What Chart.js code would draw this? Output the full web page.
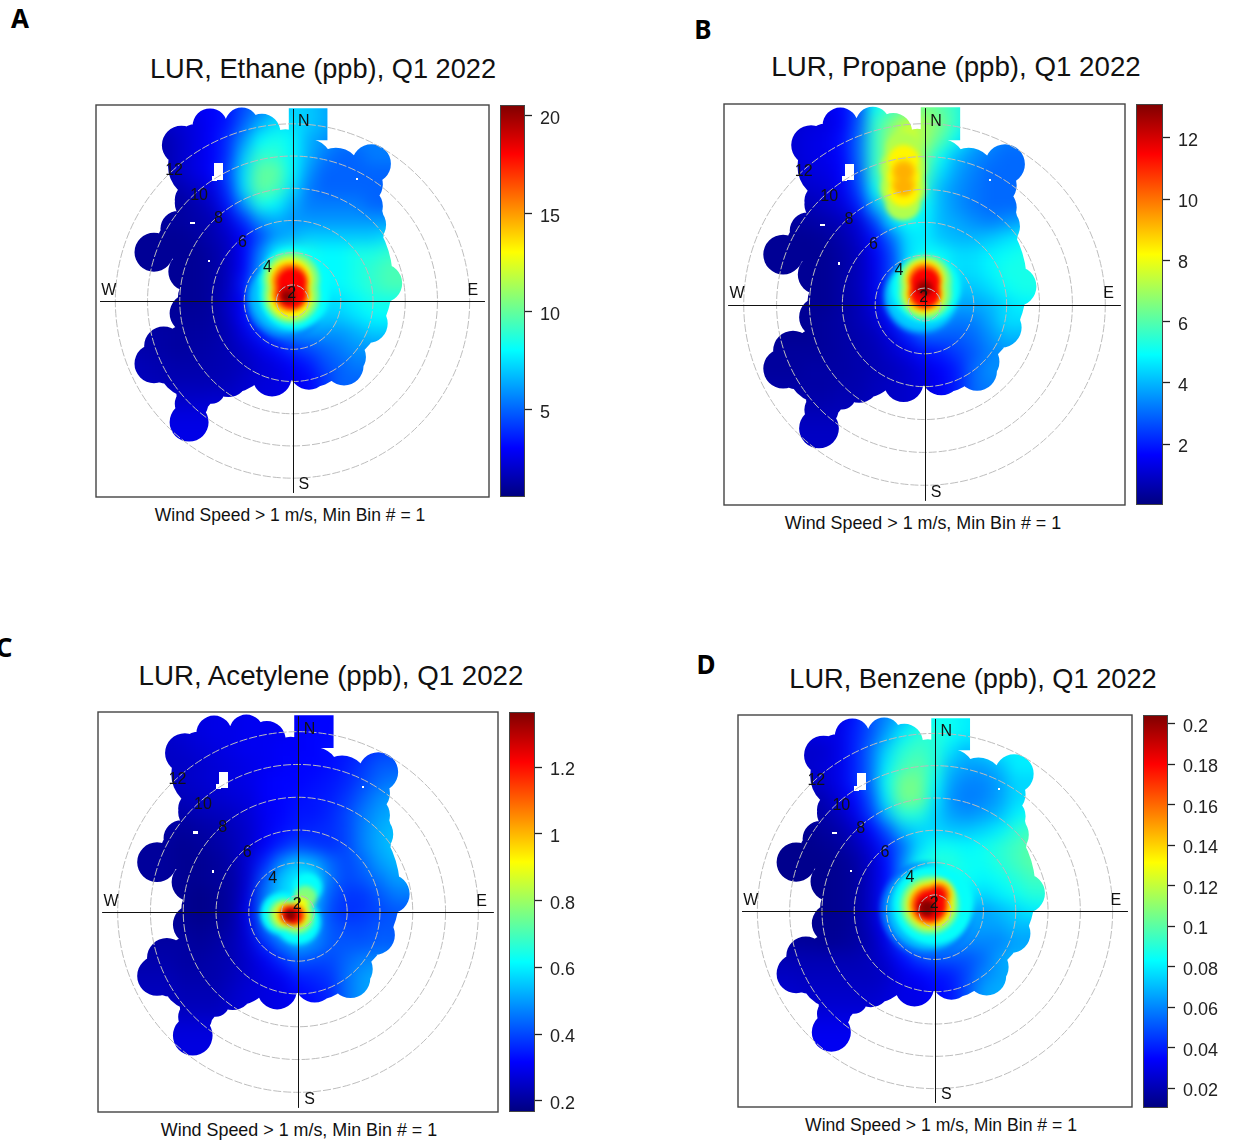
<!DOCTYPE html>
<html>
<head>
<meta charset="utf-8">
<title>LUR polar plots, Q1 2022</title>
<script src="https://cdn.jsdelivr.net/npm/chart.js@4"></script>
<style>
  body { margin: 0; background: #fff; width: 1233px; height: 1142px; position: relative; overflow: hidden; font-family: "Liberation Sans", Arial, sans-serif; }
  canvas { position: absolute; }
  .txt { position: absolute; white-space: nowrap; transform: translate(-50%, -50%); color: #111; }
  .letter { font: bold 26px "Noto Sans", sans-serif; color: #000; }
</style>
</head>
<body>
<script>
// x columns and y rows of the coarse grid, in (wind speed - 1) m/s from the centre
const gridX = [-10, -9, -8, -7, -6, -5, -4, -3, -2, -1, 0, 1, 2, 3, 4, 5, 6, 7];
const gridY = [12, 11, 10, 9, 8, 7, 6, 5, 4, 3, 2, 1, 0, -1, -2, -3, -4, -5, -6, -7, -8, -9];

const ethaneGrid = [
  [2.5,2.5,2.5,2.5,2.8,3,3.5,4.5,5.5,6.5,7.2,7,6.5,6,5.5,5.5,5.5,5.5],
  [2,2,2,2.2,2.5,3,3.5,5,6.5,7.5,7.5,7,6.5,6,5.5,5.5,5.5,5.5],
  [1.5,1.5,1.5,2,2.5,3,4,6,8,8.5,8,6.5,6,5.5,5.5,5.5,5.5,5.5],
  [1.5,1.5,1.5,2,2.5,3,4,7,9,9,8,6.5,5.5,5,5,5.5,5.5,5.5],
  [1.5,1.5,1.5,2,2.5,3,4.5,7.5,10,10,8,6,5,5,5,5,5,5],
  [1.5,1.5,1.5,1.5,2,2.5,4,7.5,10,9.5,7.5,5.5,5,5,5,5,5,5],
  [1.2,1.2,1.2,1.2,1.5,2,3.5,6,8.5,8,6.5,5.5,5.5,5.5,5.5,5,5,5],
  [1.1,1.1,1.2,1.2,1.4,1.6,2.5,4,6,6.5,6,6,6,6,6,6,6,6],
  [1,1,1,1,1.2,1.5,2,3,4.5,6,6.5,7,7,7,7,7,7.5,7.5],
  [1,1,1,1,1,1.3,1.8,3,5.5,8,8.5,8.5,8,8,8.5,8.5,9,9],
  [1,1,1,1,1,1.2,1.8,3,6,8,8.5,8.5,8,8,8.5,9,9.5,9.5],
  [1,1,1,1,1,1.2,1.8,3.5,6.5,8,8.5,8.5,8,8,8.5,9,9.5,9.5],
  [1,1,1,1,1,1.2,2,3,5.5,8,8.5,8.5,7.5,7.5,8,8.5,8.5,8.5],
  [1.1,1.1,1.1,1.1,1.1,1.2,1.8,3,5,7,8,7.5,7,7,7.5,8,8,8],
  [1.3,1.3,1.3,1.2,1.2,1.3,1.6,2.5,3.5,5,6,6,6,6,6.5,7,7,7],
  [1.5,1.4,1.3,1.2,1.3,1.4,1.6,2,2.6,3.2,4,4.5,5,5.5,6,6,6,6],
  [1.7,1.6,1.5,1.4,1.4,1.5,1.6,1.8,2.2,2.5,3,3.5,4.5,5,5.5,5.5,5.5,5.5],
  [1.8,1.7,1.6,1.6,1.6,1.6,1.7,2,2.3,2.4,2.7,3,4,5,5,5,5,5],
  [2,2,2,1.9,1.9,2,2,2.2,2.4,2.5,2.7,3,4,5,5,5,5,5],
  [2.4,2.4,2.4,2.4,2.4,2.4,2.4,2.5,2.6,2.6,2.7,3,4,5,5,5,5,5],
  [2.6,2.6,2.6,2.6,2.6,2.6,2.6,2.6,2.6,2.6,3,3,4,5,5,5,5,5],
  [2.6,2.6,2.6,2.6,2.6,2.6,2.6,2.6,2.6,2.6,3,3,4,5,5,5,5,5]
];
const propaneGrid = [
  [1.2,1.2,1.2,1.2,1.4,1.7,2.6,5,5.5,6,6.5,6,5.5,4.5,4,4,4,4],
  [1.1,1.1,1.1,1.2,1.3,1.6,2.8,5.5,6.5,7.5,7,6.5,5.5,4.5,4,3.5,3.5,3.5],
  [1.1,1.1,1.1,1.3,1.4,1.8,3,5.5,7,8,7,6,5,4,3.5,3.2,3.2,3.2],
  [1.1,1.1,1.1,1.3,1.4,1.7,3,5.5,7,7.5,6.5,5,4,3.5,3.2,3,3,3],
  [1,1,1,1.2,1.3,1.6,2.8,5.5,7,7.5,6,4.5,3.7,3.3,3,3,3,3],
  [0.8,0.8,0.8,1,1.1,1.5,2.5,5,6.5,7,5.5,4,3.5,3.2,3,3,3,3],
  [0.6,0.6,0.6,0.7,0.9,1.2,2,4,5.5,5.5,5,4,3.5,3.2,3,3,3,3],
  [0.4,0.4,0.4,0.5,0.6,0.8,1.2,2.5,4.5,5,4.8,4,3.8,3.5,3.3,3.5,3.8,3.8],
  [0.3,0.3,0.3,0.3,0.4,0.6,1,1.8,3,4.5,4.7,4.2,4,4,4.2,4.5,4.8,4.8],
  [0.3,0.3,0.3,0.3,0.3,0.5,0.8,1.5,2.5,4.5,5,5,4.5,4.5,4.8,5,5.2,5.2],
  [0.3,0.3,0.3,0.3,0.3,0.5,0.8,1.4,2.5,4.5,5,5,4.5,4.5,4.8,5.2,5.2,5.2],
  [0.3,0.3,0.3,0.3,0.3,0.5,0.8,1.4,2.5,4.5,5,5,4.2,4.2,4.5,5,5.2,5.2],
  [0.3,0.3,0.3,0.3,0.3,0.5,0.7,1.3,2.3,4.2,5,4.5,3.8,3.8,4,4.5,4.8,4.8],
  [0.3,0.3,0.3,0.3,0.4,0.5,0.7,1,1.8,3,4,3.5,3.2,3.3,3.8,4.5,4.5,4.5],
  [0.3,0.3,0.3,0.3,0.4,0.5,0.6,0.8,1.2,2,2.8,2.8,2.8,3,3.5,4,4,4],
  [0.4,0.4,0.4,0.4,0.4,0.5,0.6,0.7,1,1.3,1.8,2,2.4,2.8,3.3,3.5,3.5,3.5],
  [0.4,0.4,0.4,0.5,0.5,0.5,0.6,0.7,0.8,1,1.3,1.6,2,3,3.5,3.5,3.5,3.5],
  [0.5,0.5,0.5,0.5,0.5,0.6,0.6,0.8,0.9,1,1.2,1.5,2,3,3.3,3.3,3.3,3.3],
  [0.6,0.6,0.6,0.6,0.6,0.7,0.7,0.8,0.9,1,1.2,1.5,2,3,3,3,3,3],
  [0.8,0.8,0.8,0.8,0.8,0.8,0.8,0.8,0.9,1,1.2,1.5,2,3,3,3,3,3],
  [0.9,0.9,0.9,0.9,0.9,0.9,0.9,0.9,0.9,1,1.2,1.5,2,3,3,3,3,3],
  [0.9,0.9,0.9,0.9,0.9,0.9,0.9,0.9,0.9,1,1.2,1.5,2,3,3,3,3,3]
];
const acetyleneGrid = [
  [.27,.27,.27,.27,.28,.29,.29,.3,.3,.3,.31,.32,.32,.32,.33,.33,.33,.33],
  [.26,.26,.26,.27,.28,.29,.29,.3,.3,.3,.31,.32,.32,.33,.34,.35,.35,.35],
  [.25,.25,.25,.26,.27,.28,.29,.3,.3,.31,.31,.32,.33,.34,.36,.38,.4,.4],
  [.25,.25,.25,.25,.26,.27,.28,.29,.3,.31,.32,.32,.33,.35,.38,.42,.42,.42],
  [.24,.24,.24,.25,.26,.27,.28,.29,.31,.32,.32,.33,.34,.36,.4,.44,.46,.46],
  [.23,.23,.23,.24,.25,.26,.27,.28,.31,.32,.33,.34,.35,.38,.43,.48,.5,.5],
  [.22,.22,.22,.22,.23,.24,.25,.27,.3,.32,.34,.34,.36,.4,.46,.5,.52,.52],
  [.21,.21,.21,.2,.21,.22,.24,.26,.3,.33,.35,.36,.37,.4,.47,.52,.54,.54],
  [.2,.2,.2,.19,.2,.21,.23,.26,.31,.36,.4,.38,.37,.4,.47,.52,.55,.55],
  [.2,.2,.2,.19,.19,.2,.22,.27,.36,.48,.55,.52,.44,.4,.44,.5,.53,.53],
  [.2,.2,.2,.19,.19,.2,.21,.27,.42,.55,.6,.58,.45,.4,.42,.46,.5,.5],
  [.19,.19,.19,.19,.18,.19,.21,.28,.46,.56,.6,.55,.42,.38,.38,.42,.46,.46],
  [.19,.19,.19,.19,.18,.19,.21,.3,.48,.58,.6,.52,.4,.37,.38,.4,.42,.42],
  [.2,.2,.2,.2,.19,.2,.22,.28,.44,.56,.58,.5,.42,.4,.4,.42,.42,.42],
  [.21,.21,.21,.21,.2,.21,.23,.27,.36,.45,.52,.48,.42,.42,.42,.43,.43,.43],
  [.22,.22,.22,.21,.21,.22,.23,.26,.3,.36,.42,.4,.4,.44,.47,.48,.48,.48],
  [.23,.23,.23,.22,.22,.22,.24,.26,.28,.3,.35,.36,.38,.45,.5,.52,.52,.52],
  [.24,.24,.24,.23,.23,.23,.25,.27,.28,.29,.32,.34,.36,.45,.5,.52,.52,.52],
  [.25,.25,.25,.24,.24,.24,.26,.27,.28,.29,.3,.32,.36,.45,.5,.5,.5,.5],
  [.27,.27,.27,.27,.27,.27,.27,.27,.28,.29,.3,.32,.36,.45,.5,.5,.5,.5],
  [.28,.28,.28,.28,.28,.28,.28,.28,.28,.29,.3,.32,.36,.45,.5,.5,.5,.5],
  [.28,.28,.28,.28,.28,.28,.28,.28,.28,.29,.3,.32,.36,.45,.5,.5,.5,.5]
];
const benzeneGrid = [
  [.03,.03,.03,.03,.03,.038,.05,.06,.07,.08,.085,.085,.08,.08,.08,.08,.08,.08],
  [.028,.028,.028,.03,.03,.04,.05,.065,.08,.09,.09,.085,.08,.078,.078,.078,.078,.078],
  [.025,.025,.025,.025,.03,.04,.055,.075,.09,.095,.09,.078,.07,.075,.08,.08,.08,.08],
  [.025,.025,.025,.027,.03,.04,.055,.08,.095,.1,.09,.07,.065,.065,.07,.08,.08,.08],
  [.024,.024,.024,.025,.03,.04,.055,.085,.105,.105,.085,.065,.06,.06,.065,.075,.075,.075],
  [.02,.02,.02,.02,.027,.035,.05,.08,.105,.105,.08,.062,.058,.06,.065,.075,.078,.078],
  [.016,.016,.016,.018,.022,.03,.045,.07,.09,.09,.075,.065,.062,.065,.07,.08,.085,.085],
  [.014,.014,.014,.016,.018,.024,.035,.05,.07,.075,.075,.072,.072,.075,.08,.09,.095,.095],
  [.013,.013,.013,.014,.016,.02,.028,.04,.055,.075,.085,.085,.082,.085,.09,.095,.1,.1],
  [.013,.013,.013,.013,.014,.017,.024,.036,.06,.085,.09,.09,.085,.085,.09,.095,.1,.1],
  [.013,.013,.013,.013,.014,.016,.024,.036,.06,.08,.085,.085,.085,.082,.085,.09,.095,.095],
  [.013,.013,.013,.013,.014,.016,.024,.038,.06,.08,.085,.085,.08,.075,.08,.085,.09,.09],
  [.013,.013,.013,.013,.014,.016,.024,.038,.06,.08,.085,.08,.07,.065,.07,.075,.08,.08],
  [.014,.014,.014,.014,.014,.016,.022,.034,.055,.08,.085,.072,.065,.065,.065,.07,.07,.07],
  [.016,.016,.016,.015,.015,.017,.02,.03,.048,.065,.07,.065,.06,.06,.06,.065,.065,.065],
  [.02,.02,.02,.02,.02,.02,.022,.026,.036,.046,.05,.05,.05,.055,.065,.07,.07,.07],
  [.023,.023,.022,.022,.022,.022,.022,.024,.03,.034,.038,.04,.048,.06,.065,.068,.068,.068],
  [.025,.025,.024,.024,.024,.024,.024,.026,.03,.03,.035,.038,.05,.065,.068,.068,.068,.068],
  [.027,.027,.026,.026,.026,.026,.026,.028,.03,.03,.034,.038,.05,.065,.065,.065,.065,.065],
  [.03,.03,.03,.03,.03,.03,.03,.03,.03,.03,.034,.038,.05,.065,.065,.065,.065,.065],
  [.032,.032,.032,.032,.032,.032,.032,.032,.032,.032,.034,.038,.05,.065,.065,.065,.065,.065],
  [.032,.032,.032,.032,.032,.032,.032,.032,.032,.032,.034,.038,.05,.065,.065,.065,.065,.065]
];

// hot spots as nested levels, lowest first: [x, y, radius, value]
const ethaneHot = [
  [-.4,.15,2.5,5.6],[-.3,.3,2.3,6.8],[.1,1.2,2.2,8.1],[.1,.4,2.2,8.1],[-.07,1.3,1.75,10.6],[-.07,.35,1.75,10.6],
  [-.12,1.32,1.35,13.1],[-.12,.27,1.35,13.1],[-.13,1.22,1.13,15.6],[-.13,.46,1.13,15.6],[-.05,1.14,.9,18.1],[-.05,.44,.9,18.1],
  [-.3,.35,.5,19.5],[-.33,.25,.25,20.5]
];
const propaneHot = [
  [-.2,.5,2.3,3.6],[-.1,.6,2.2,4.3],[.1,1,2.1,5],[.06,1.4,1.6,6.6],[.06,.7,1.6,6.6],[0,1.53,1.22,8.3],[0,.62,1.22,8.3],
  [0,1.48,1.02,9.9],[0,.67,1.02,9.9],[.05,1.33,.87,11.5],[.05,.72,.87,11.5],[0,1,.5,12.5],[0,.9,.25,13.1],
  [-1.3,9.4,1.1,7.2],[-1.3,8.3,1.4,7.2],[-1.3,7.1,1.4,7.2],[-1.3,6.2,1.1,7.2],
  [-1.27,8.75,.95,8.3],[-1.27,7.8,1,8.3],[-1.27,6.9,.95,8.3],
  [-1.27,8.1,.72,8.9],[-1.27,7.3,.72,8.9],[-1.27,8.05,.5,9.2],[-1.27,7.15,.5,9.2]
];
const acetyleneHot = [
  [-1,-.1,1.3,.62],[.6,1.5,.9,.62],[0,-.6,1.4,.62],[-.85,-.15,.95,.77],[.45,.9,.7,.77],[-.05,-.3,1.05,.77],
  [-.7,-.15,.75,.9],[-.1,-.2,.8,.9],[.2,.5,.4,.9],[-.6,-.15,.6,1.07],[-.2,-.2,.65,1.07],
  [-.5,-.15,.5,1.22],[-.3,-.2,.55,1.22],[-.45,-.18,.35,1.36]
];
const benzeneHot = [
  [-.5,.1,2.9,.055],[-.35,.2,2.65,.07],[-.1,.4,2.5,.084],[-.33,.37,1.8,.108],[-.3,.37,1.45,.133],[.25,1.05,.95,.133],
  [-.35,.37,1.2,.157],[.2,1,.75,.157],[-.3,.33,.95,.181],[.15,.95,.55,.181],[-.5,.2,.55,.2],[-.45,.2,.3,.204]
];

// where there are wind bins at all: [x, y, radius]
const binCircles = [
  [4.9,8.54,1.21],[4.4,7.25,1.21],[4.4,5.9,1.21],[4.6,4.75,1.21],[4.2,3.7,1.21],[4.7,2.77,1.21],[5.6,1.1,1.21],
  [4.7,-.46,1.21],[4.7,-1.4,1.21],[3.56,-2.23,1.21],[3.35,-3.48,1.21],[3.2,-4.04,1.21],[1.02,-4.31,1.21],
  [-1.27,-4.73,1.21],[-3.98,-4.77,1.21],[-5.85,-4.98,1.21],[-6.42,-7.54,1.21],[-7.83,-3.94,1.21],[-8.6,-3.9,1.21],
  [-8,-2.8,1.21],[-6.7,-2.8,1.21],[-6.42,-.77,1.21],[-5.9,.27,1.21],[-5.8,1.2,1.21],[-6.5,1.83,1.21],[-8.6,3.04,1.21],
  [-7.15,3.8,1.21],[-6.1,4.23,1.21],[-6.1,6.1,1.21],[-6.9,9.7,1.21],[-5.12,10.9,1.08],[-3.15,11,1.04],[-1.9,10.5,1.15],
  [-.02,1.31,6.25],[-1.48,7.56,2.92],[-5.65,8.4,2.08],[-6.06,-3.69,2.4],[-3.98,-3.06,2.7],[1.23,-3.27,2.08],
  [2.27,4.65,3.44],[2.27,7.35,2.08],[-3.98,3.19,3.33],[-.44,9.44,1.25],
  [-4.6,5.69,1.98],[-6.27,6.31,1.04],[-3.98,9.23,1.88],[-6.06,9.85,1.15],[-2.31,9.85,1.46],[-1.27,9.65,1.04],
  [2.69,7.98,1.56],[1.02,8.6,1.46],[-7.1,4.5,1.1],[-6.1,4.96,1.21],[-6.06,-5.77,1.15],[-5.02,-5.56,.83],[-6.27,-6.4,1.04]
];
const binBlock = [-.23, 12, 2.17, 10];
// small holes: [x, y, width, height]
const binGaps = [[-4.57,8.06,.55,1],[-4.85,7.65,.3,.3],[-6.23,4.85,.3,.15],[-5.19,2.48,.1,.16],[3.98,7.6,.12,.12]];

const ringSpeeds = [2, 4, 6, 8, 10, 12];
const ringLabels = ['2', '4', '6', '8', '10', '12'];
const ringLabelX = [-.05, -1.55, -3.1, -4.6, -5.8, -7.35];
const ringLabelY = [.45, 2.05, 3.65, 5.15, 6.55, 8.1];
const compassLabels = ['N', 'E', 'S', 'W'];
const compassX = [.7, 11.2, .7, -11.4];
const compassY = [11.15, .65, -11.45, .65];

const ethaneTicks = [5, 10, 15, 20];
const propaneTicks = [2, 4, 6, 8, 10, 12];
const acetyleneTicks = [0.2, 0.4, 0.6, 0.8, 1, 1.2];
const benzeneTicks = [0.02, 0.04, 0.06, 0.08, 0.1, 0.12, 0.14, 0.16, 0.18, 0.2];

const jet = ['#00007F', '#0000FF', '#007FFF', '#00FFFF', '#7FFF7F', '#FFFF00', '#FF7F00', '#FF0000', '#7F0000'];
const halfRange = 12.2;
const margin = 30;

const panels = [
  { letter: 'A', letterAt: [20, 18], title: 'LUR, Ethane (ppb), Q1 2022', titleAt: [323, 69], titleSize: 27.2, capAt: [290, 515], capSize: 17.5, box: [96, 105, 393, 392], bar: [500, 105, 25, 392], min: 0.56, max: 20.56, grid: ethaneGrid, hot: ethaneHot, ticks: ethaneTicks },
  { letter: 'B', letterAt: [703, 29], title: 'LUR, Propane (ppb), Q1 2022', titleAt: [956, 67], titleSize: 27.7, capAt: [923, 523], capSize: 17.9, box: [724, 104, 401, 401], bar: [1136, 104, 27, 401], min: 0.016, max: 13.1, grid: propaneGrid, hot: propaneHot, ticks: propaneTicks },
  { letter: 'C', letterAt: [4, 647], title: 'LUR, Acetylene (ppb), Q1 2022', titleAt: [331, 676], titleSize: 27.7, capAt: [299, 1130], capSize: 17.9, box: [98, 712, 400, 400], bar: [509, 712, 26, 400], min: 0.167, max: 1.3655, grid: acetyleneGrid, hot: acetyleneHot, ticks: acetyleneTicks },
  { letter: 'D', letterAt: [706, 664], title: 'LUR, Benzene (ppb), Q1 2022', titleAt: [973, 679], titleSize: 27.2, capAt: [941, 1125], capSize: 17.6, box: [738, 715, 394, 392], bar: [1143, 715, 25, 393], min: 0.0103, max: 0.2043, grid: benzeneGrid, hot: benzeneHot, ticks: benzeneTicks }
];

const jetColor = (v, min, max) => {
  const t = Math.min(1, Math.max(0, (v - min) / (max - min))) * (jet.length - 1);
  const i = Math.min(jet.length - 2, Math.floor(t));
  const a = jet[i], b = jet[i + 1];
  const ch = (s) => [1, 3, 5].map((p) => parseInt(s.substr(p, 2), 16));
  const ca = ch(a), cb = ch(b);
  const c = ca.map((n, k) => Math.round(n + (cb[k] - n) * (t - i)));
  return `rgb(${c[0]},${c[1]},${c[2]})`;
};

const addText = (cls, text, at, size) => {
  const el = document.createElement('div');
  el.className = cls;
  el.textContent = text;
  el.style.left = at[0] + 'px';
  el.style.top = at[1] + 'px';
  if (size) el.style.fontSize = size + 'px';
  document.body.appendChild(el);
};

const addCanvas = (x, y, w, h) => {
  const c = document.createElement('canvas');
  c.width = w;
  c.height = h;
  c.style.left = x + 'px';
  c.style.top = y + 'px';
  c.style.width = w + 'px';
  c.style.height = h + 'px';
  document.body.appendChild(c);
  return c;
};

// blurs what has been drawn so far, so the cells read as a smooth surface
const blurCanvas = (chart, amount) => {
  const tmp = document.createElement('canvas');
  tmp.width = chart.canvas.width;
  tmp.height = chart.canvas.height;
  tmp.getContext('2d').drawImage(chart.canvas, 0, 0);
  const ctx = chart.ctx;
  ctx.save();
  ctx.setTransform(1, 0, 0, 1, 0, 0);
  ctx.clearRect(0, 0, tmp.width, tmp.height);
  ctx.filter = `blur(${amount}px)`;
  ctx.drawImage(tmp, 0, 0);
  ctx.restore();
};

const polarPlugin = {
  id: 'polarPlugin',
  afterDatasetDraw(chart, args) {
    blurCanvas(chart, chart.data.datasets[args.index].blur);
  },
  afterDatasetsDraw(chart) {
    const ctx = chart.ctx;
    const sx = chart.scales.x, sy = chart.scales.y;
    const unit = sx.getPixelForValue(1) - sx.getPixelForValue(0);
    const px = (v) => sx.getPixelForValue(v);
    const py = (v) => sy.getPixelForValue(v);
    const cx = px(0), cy = py(0);

    // keep the surface only where bins exist
    ctx.save();
    ctx.globalCompositeOperation = 'destination-in';
    ctx.beginPath();
    binCircles.forEach((b) => {
      ctx.moveTo(px(b[0]) + b[2] * unit, py(b[1]));
      ctx.arc(px(b[0]), py(b[1]), b[2] * unit, 0, Math.PI * 2);
    });
    ctx.rect(px(binBlock[0]), py(binBlock[1]), px(binBlock[2]) - px(binBlock[0]), py(binBlock[3]) - py(binBlock[1]));
    ctx.fill();
    ctx.restore();
    binGaps.forEach((g) => {
      ctx.clearRect(px(g[0] - g[2] / 2), py(g[1] + g[3] / 2), g[2] * unit, g[3] * unit);
    });

    // rings
    ctx.save();
    ctx.strokeStyle = '#bdbdbd';
    ctx.lineWidth = 1;
    ctx.setLineDash([8, 2]);
    ringSpeeds.forEach((ws) => {
      ctx.beginPath();
      ctx.arc(cx, cy, (ws - 1) * unit, 0, Math.PI * 2);
      ctx.stroke();
    });
    ctx.restore();

    // cross
    ctx.strokeStyle = '#111';
    ctx.lineWidth = 1;
    ctx.beginPath();
    ctx.moveTo(px(-11.95), Math.round(cy) + 0.5);
    ctx.lineTo(px(11.95), Math.round(cy) + 0.5);
    ctx.moveTo(Math.round(cx) + 0.5, py(11.95));
    ctx.lineTo(Math.round(cx) + 0.5, py(-11.95));
    ctx.stroke();

    // plot box
    ctx.strokeStyle = '#444';
    ctx.lineWidth = 1.4;
    ctx.strokeRect(px(-halfRange), py(halfRange), px(halfRange) - px(-halfRange), py(-halfRange) - py(halfRange));

    ctx.fillStyle = '#111';
    ctx.textAlign = 'center';
    ctx.textBaseline = 'middle';
    ctx.font = '16px "Liberation Sans", Arial, sans-serif';
    ringLabels.forEach((t, i) => ctx.fillText(t, px(ringLabelX[i]), py(ringLabelY[i])));
    compassLabels.forEach((t, i) => ctx.fillText(t, px(compassX[i]), py(compassY[i])));
  }
};

const barEdgePlugin = {
  id: 'barEdgePlugin',
  afterDatasetsDraw(chart) {
    const a = chart.chartArea;
    chart.ctx.strokeStyle = '#444';
    chart.ctx.lineWidth = 1;
    chart.ctx.strokeRect(a.left + 0.5, a.top + 0.5, a.right - a.left - 1, a.bottom - a.top - 1);
  }
};

panels.forEach((p) => {
  addText('txt letter', p.letter, p.letterAt);
  addText('txt', p.title, p.titleAt, p.titleSize);
  addText('txt', 'Wind Speed > 1 m/s, Min Bin # = 1', p.capAt, p.capSize);

  const [bx, by, bw, bh] = p.box;
  const cellData = [];
  // one row/column more on every side so the blur has something to read at the edge
  for (let r = -1; r <= gridY.length; r++) {
    for (let c = -1; c <= gridX.length; c++) {
      const rr = Math.min(gridY.length - 1, Math.max(0, r));
      const cc = Math.min(gridX.length - 1, Math.max(0, c));
      cellData.push({ x: gridX[cc] + (c - cc), y: gridY[rr] - (r - rr), v: p.grid[rr][cc] });
    }
  }
  const hotData = p.hot.map((h) => ({ x: h[0], y: h[1], r: h[2], v: h[3] }));
  const unitOf = (c) => c.chart.scales.x.getPixelForValue(1) - c.chart.scales.x.getPixelForValue(0);
  const colour = (c) => jetColor(c.raw.v, p.min, p.max);

  new Chart(addCanvas(bx - margin, by - margin, bw + margin * 2, bh + margin * 2), {
    type: 'scatter',
    data: {
      datasets: [
        {
          label: 'hot',
          data: hotData,
          order: 1,
          blur: 2.8,
          pointStyle: 'circle',
          pointRadius: (c) => c.raw.r * unitOf(c),
          pointBackgroundColor: colour,
          pointBorderWidth: 0,
        },
        {
          label: 'cells',
          data: cellData,
          order: 2,
          blur: 7,
          pointStyle: 'rect',
          pointRadius: (c) => (unitOf(c) / Math.SQRT2) + 0.6,
          pointBackgroundColor: colour,
          pointBorderWidth: 0,
        },
      ],
    },
    options: {
      responsive: false,
      animation: false,
      layout: { autoPadding: false, padding: 0 },
      plugins: { legend: { display: false }, tooltip: { enabled: false } },
      scales: {
        x: { type: 'linear', display: false, min: -halfRange * (bw + margin * 2) / bw, max: halfRange * (bw + margin * 2) / bw },
        y: { type: 'linear', display: false, min: -halfRange * (bh + margin * 2) / bh, max: halfRange * (bh + margin * 2) / bh },
      },
    },
    plugins: [polarPlugin],
  });

  const [cx, cy, cw, ch] = p.bar;
  const sideW = 70;
  new Chart(addCanvas(cx, cy, cw + sideW, ch), {
    type: 'bar',
    data: {
      labels: [''],
      datasets: [
        {
          data: [[p.min, p.max]],
          barPercentage: 1,
          categoryPercentage: 1,
          borderWidth: 0,
          borderSkipped: false,
          backgroundColor: (c) => {
            const area = c.chart.chartArea;
            if (!area) return '#000';
            const g = c.chart.ctx.createLinearGradient(0, area.bottom, 0, area.top);
            jet.forEach((col, i) => g.addColorStop(i / (jet.length - 1), col));
            return g;
          },
        },
      ],
    },
    options: {
      responsive: false,
      animation: false,
      layout: { padding: 0 },
      plugins: { legend: { display: false }, tooltip: { enabled: false } },
      scales: {
        x: { display: false },
        y: {
          position: 'right',
          min: p.min,
          max: p.max,
          border: { display: false },
          grid: { drawOnChartArea: false, drawTicks: true, tickLength: 7, tickColor: '#222', tickWidth: 1.3 },
          afterBuildTicks: (scale) => { scale.ticks = p.ticks.map((value) => ({ value })); },
          afterFit: (scale) => { scale.width = sideW; scale.paddingTop = 0; scale.paddingBottom = 0; },
          ticks: {
            autoSkip: false,
            padding: 8,
            labelOffset: 3,
            color: '#222',
            font: { family: '"Liberation Sans", Arial, sans-serif', size: 18 },
            callback: (v) => String(v),
          },
        },
      },
    },
    plugins: [barEdgePlugin],
  });
});
</script>
</body>
</html>
